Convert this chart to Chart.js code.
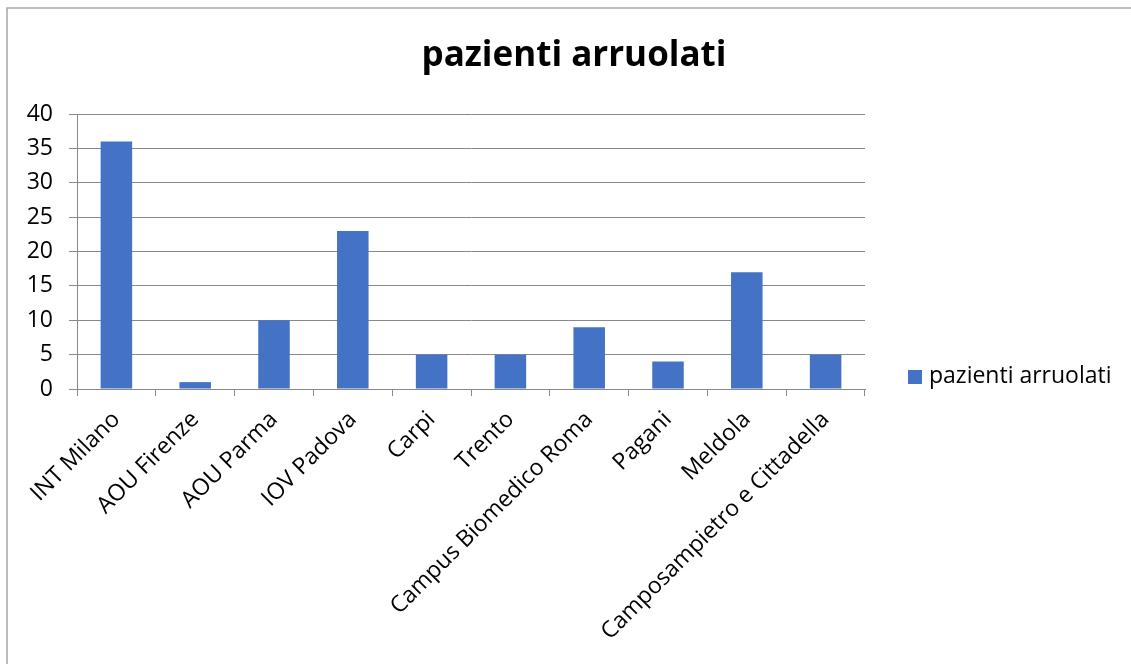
<!DOCTYPE html>
<html>
<head>
<meta charset="utf-8">
<script src="https://cdn.jsdelivr.net/npm/chart.js@4/dist/chart.umd.min.js"></script>
<style>
  html, body { margin: 0; padding: 0; background: #fff; }
  #wrap { width: 1131px; height: 664px; position: relative; }
</style>
</head>
<body>
<div id="wrap"><canvas id="c" width="1131" height="664"></canvas></div>
<script>
const chartTitle = 'pazienti arruolati';
const seriesName = 'pazienti arruolati';
const categories = ['INT Milano', 'AOU Firenze', 'AOU Parma', 'IOV Padova', 'Carpi', 'Trento', 'Campus Biomedico Roma', 'Pagani', 'Meldola', 'Camposampietro e Cittadella'];
const values = [36, 1, 10, 23, 5, 5, 9, 4, 17, 5];
const yMin = 0, yMax = 40, yStep = 5;

const FONT = "'Open Sans', 'DejaVu Sans', sans-serif";
const GRID = '#898989';
const BAR = '#4472C4';

const decor = {
  id: 'decor',
  afterDraw(chart) {
    const ctx = chart.ctx;
    ctx.save();
    ctx.strokeStyle = '#a6a6a6';
    ctx.lineWidth = 1.5;
    ctx.beginPath();
    ctx.moveTo(7, 664);
    ctx.lineTo(7, 8);
    ctx.lineTo(1131, 8);
    ctx.stroke();
    ctx.fillStyle = '#000';
    ctx.font = 'bold 35px ' + FONT;
    ctx.textAlign = 'center';
    ctx.textBaseline = 'middle';
    ctx.fillText(chartTitle, 574, 56);
    ctx.fillStyle = BAR;
    ctx.fillRect(908, 370, 14, 14);
    ctx.fillStyle = '#000';
    ctx.font = '23px ' + FONT;
    ctx.textAlign = 'left';
    ctx.fillText(seriesName, 929, 376);
    ctx.restore();
  }
};

new Chart(document.getElementById('c'), {
  type: 'bar',
  data: {
    labels: categories,
    datasets: [{
      label: seriesName,
      data: values,
      backgroundColor: BAR,
      borderWidth: 0,
      barPercentage: 0.4,
      categoryPercentage: 1.0
    }]
  },
  options: {
    responsive: false,
    animation: false,
    devicePixelRatio: 1,
    layout: { padding: { top: 114, right: 266, left: 0, bottom: 0 } },
    plugins: {
      legend: { display: false },
      title: { display: false },
      tooltip: { enabled: false }
    },
    scales: {
      y: {
        min: yMin, max: yMax,
        afterFit(s) { s.width = 77; },
        ticks: { stepSize: yStep, color: '#000', font: { family: FONT, size: 23 }, padding: 16 },
        grid: { color: GRID, lineWidth: 1, drawTicks: true, tickLength: 8 },
        border: { display: true, color: GRID, width: 1 }
      },
      x: {
        afterFit(s) { s.height = 664 - 389; },
        ticks: { color: '#000', font: { family: FONT, size: 23 }, minRotation: 45, maxRotation: 45, padding: 10, autoSkip: false },
        grid: { offset: true, drawOnChartArea: false, drawTicks: true, tickLength: 7, color: GRID, lineWidth: 1 },
        border: { display: true, color: GRID, width: 1 }
      }
    }
  },
  plugins: [decor]
});
</script>
</body>
</html>
